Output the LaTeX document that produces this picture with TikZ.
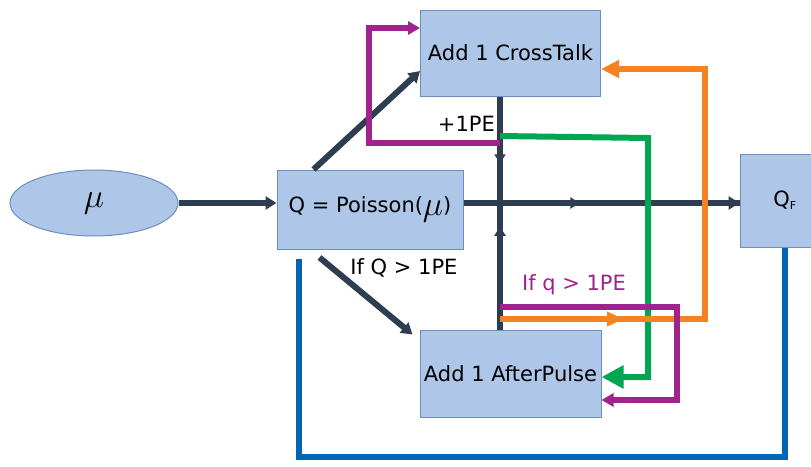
\documentclass[tikz,border=0pt]{standalone}
\usepackage{graphicx}
\usepackage{fontspec}
\setmainfont{DejaVu Sans}
\usetikzlibrary{arrows.meta,calc,decorations.markings,shapes.geometric}
\definecolor{boxfill}{HTML}{AEC6E8}
\definecolor{boxline}{HTML}{6C8EBF}
\definecolor{navy}{HTML}{2E3E50}
\definecolor{ppl}{HTML}{A0228C}
\definecolor{grn}{HTML}{00A651}
\definecolor{org}{HTML}{F58220}
\definecolor{blu}{HTML}{0065B3}
\newcommand{\bigmu}{\raisebox{-0.12em}{\scalebox{1.65}{$\mu$}}}
\tikzset{
  box/.style={draw=boxline, fill=boxfill, line width=1pt, font=\fontsize{21}{24}\selectfont, inner sep=0pt},
  darrow/.style={draw=navy, line width=6pt, -{Triangle[length=11pt,width=13pt]}},
  dline/.style={draw=navy, line width=6pt},
  midarrow/.style={postaction={decorate}, decoration={markings, mark=at position #1 with {\arrow{Triangle[length=9pt,width=11pt]}}}},
  cline/.style={line width=6pt},
  lbl/.style={font=\fontsize{21}{24}\selectfont, inner sep=0pt}
}
\begin{document}
\begin{tikzpicture}[x=1pt,y=-1pt]
\useasboundingbox (0,0) rectangle (811,466);
% nodes
\node[box, ellipse, minimum width=168, minimum height=66] (mu) at (94,203) {\bigmu};
\node[box, minimum width=186, minimum height=79] (q) at (370,209.5) {Q = Poisson(\bigmu)};
\node[box, minimum width=180, minimum height=86] (ct) at (510.5,53) {Add 1 CrossTalk};
\node[box, minimum width=181, minimum height=87] (ap) at (510.5,373.5) {Add 1 AfterPulse};
\node[box, minimum width=90, minimum height=93] (qf) at (785,200.5) {Q\textsubscript{\fontsize{11}{11}\selectfont F}};
% helper coordinates
\coordinate (j) at (500,203);
\coordinate (p1a) at (500,143);
\coordinate (p1b) at (369,143);
\coordinate (p1c) at (369,28);
\coordinate (g1) at (500,136);
\coordinate (g2) at (648,138);
\coordinate (g3) at (648,377);
\coordinate (o1) at (500,319);
\coordinate (o2) at (705,319);
\coordinate (o3) at (705,69);
\coordinate (p2a) at (500,307);
\coordinate (p2b) at (677,307);
\coordinate (p2c) at (677,400);
\coordinate (b1) at ($(q.south west)+(22,9)$);
\coordinate (b2) at (785,457);
% dark connectors
\draw[dline, midarrow=0.42] (q.east |- j) -- (qf.west |- j);
\draw[darrow] (mu.east) -- (q.west |- mu.east);
\draw[darrow] (q.east |- j) -- (qf.west |- j);
\draw[dline, midarrow=0.5] (j |- ct.south) -- (500,230);
\draw[dline, midarrow=0.5] (j |- ap.north) -- (500,124);
\draw[darrow] ($(q.north west)+(37,0)$) -- ($(ct.west)+(0,18)$);
\draw[darrow] ($(q.south west)+(43,8)$) -- ($(ap.north west)+(-7,5)$);
% blue
\draw[blu, cline] (qf.south) -- (b2) -| (b1);
% green
\draw[grn, cline, -{Triangle[length=22pt,width=22pt]}] (g1) -- (g2) -- (g3) -- (ap.east |- g3);
% orange
\draw[org, cline, -{Triangle[length=18pt,width=17pt]}] (o1) -- (o2) -- (o3) -- (ct.east |- o3);
\path[postaction={decorate}, decoration={markings, mark=at position 0.6 with {\arrow[org]{Triangle[length=16pt,width=15pt]}}}] (o1) -- (o2);
% purple
\draw[ppl, cline, -{Triangle[length=12pt,width=13pt]}] (p1a) -- (p1b) -- (p1c) -- (ct.west |- p1c);
\draw[ppl, cline, -{Triangle[length=12pt,width=13pt]}] (p2a) -- (p2b) -- (p2c) -- (ap.east |- p2c);
% labels
\node[lbl, anchor=east] (pe) at (495,124) {+1PE};
\node[lbl] (ifQ) at (404,268) {If Q > 1PE};
\node[lbl, text=ppl] (ifq) at (574,285) {If q > 1PE};
\end{tikzpicture}
\end{document}
